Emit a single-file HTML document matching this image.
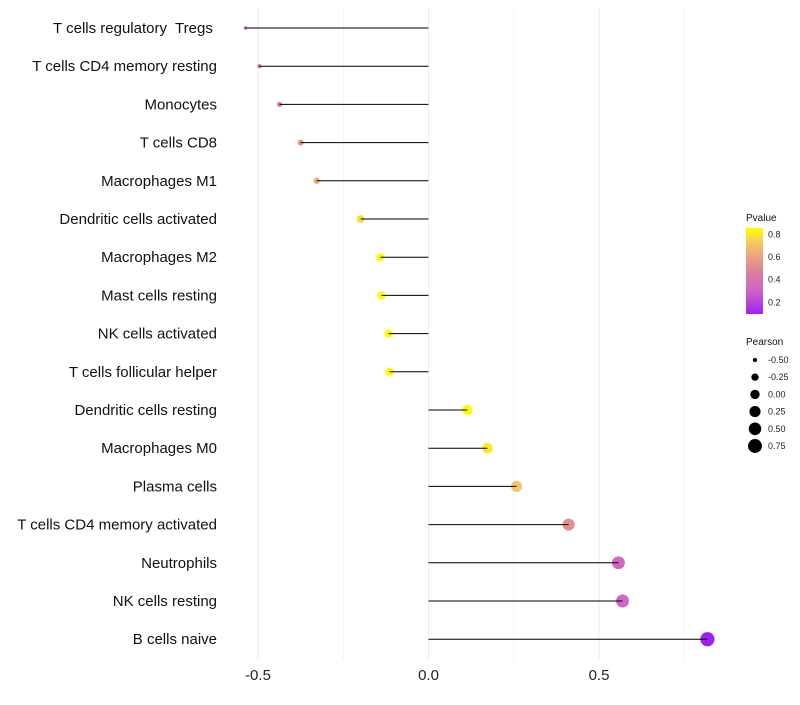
<!DOCTYPE html>
<html><head><meta charset="utf-8"><style>
body{margin:0;background:#fff;font-family:"Liberation Sans",sans-serif}
</style></head><body>
<svg id="chart" width="800" height="700" xmlns="http://www.w3.org/2000/svg" font-family="Liberation Sans, sans-serif"></svg>
<script>
const categories=["T cells regulatory  Tregs ","T cells CD4 memory resting","Monocytes","T cells CD8","Macrophages M1","Dendritic cells activated","Macrophages M2","Mast cells resting","NK cells activated","T cells follicular helper","Dendritic cells resting","Macrophages M0","Plasma cells","T cells CD4 memory activated","Neutrophils","NK cells resting","B cells naive"];
const pearson=[-0.537,-0.496,-0.437,-0.375,-0.328,-0.199,-0.141,-0.138,-0.117,-0.114,0.114,0.173,0.258,0.411,0.557,0.569,0.818];
const pvalue=[0.36,0.40,0.45,0.55,0.65,0.77,0.85,0.85,0.85,0.85,0.85,0.81,0.71,0.53,0.32,0.32,0.10];
const xTicks=[-0.5,0,0.5];
const xTickLabels=["-0.5","0.0","0.5"];
const minorTicks=[-0.25,0.25,0.75];
const pLegend=[0.8,0.6,0.4,0.2];
const sizeLegend=[-0.5,-0.25,0,0.25,0.5,0.75];

const svg=document.getElementById('chart');
const NS="http://www.w3.org/2000/svg";
function mk(tag,attrs,parent){const e=document.createElementNS(NS,tag);for(const k in attrs)e.setAttribute(k,attrs[k]);(parent||svg).appendChild(e);return e;}
const xS=v=>428.5+v*341;
const yS=i=>28+i*38.2;
const rS=v=>Math.sqrt(Math.max(1.5,22+35*v));
const stops=[[0.1,[160,32,240]],[0.3,[205,100,200]],[0.45,[220,125,160]],[0.6,[237,160,130]],[0.72,[245,200,100]],[0.86,[255,255,0]]];
function col(p){if(p<=stops[0][0])return `rgb(${stops[0][1]})`;for(let i=1;i<stops.length;i++){if(p<=stops[i][0]){const t=(p-stops[i-1][0])/(stops[i][0]-stops[i-1][0]);const a=stops[i-1][1],b=stops[i][1];return `rgb(${a.map((c,j)=>Math.round(c+(b[j]-c)*t)).join(',')})`;}}return 'rgb(255,255,0)';}

minorTicks.forEach(t=>{const l=mk('line',{x1:xS(t),x2:xS(t),y1:8,y2:660,stroke:'#f2f2f2','stroke-width':1});});
xTicks.forEach((t,i)=>{const l=mk('line',{x1:xS(t),x2:xS(t),y1:8,y2:660,stroke:'#ebebeb','stroke-width':1});
const tx=mk('text',{x:xS(t),y:680,'text-anchor':'middle','font-size':15,fill:'#222'});tx.textContent=xTickLabels[i];});

categories.forEach((c,i)=>{const y=yS(i);
const lab=mk('text',{x:217,y:y+5,'text-anchor':'end','font-size':15,fill:'#111','xml:space':'preserve',style:'white-space:pre'});lab.textContent=c;
const pt=mk('circle',{cx:xS(pearson[i]),cy:y,r:rS(pearson[i]),fill:col(pvalue[i])});
const ln=mk('line',{x1:xS(0),x2:xS(pearson[i]),y1:y,y2:y,stroke:'#000','stroke-width':1});
});

const lt=mk('text',{x:746,y:221,'font-size':10,fill:'#111'});lt.textContent='Pvalue';
const defs=mk('defs',{});const g=mk('linearGradient',{id:'pg',x1:0,y1:0,x2:0,y2:1},defs);
[0.86,0.72,0.6,0.45,0.3,0.1].forEach(p=>{mk('stop',{offset:Math.max(0,(0.853-p)/(0.853-0.1)),'stop-color':col(p)},g);});
const bar=mk('rect',{x:746,y:228,width:17,height:86,fill:'url(#pg)'});
const pyS=p=>228+(0.853-p)*113;
pLegend.forEach(p=>{const t=mk('text',{x:768,y:pyS(p)+3.5,'font-size':9,fill:'#222'});t.textContent=p.toFixed(1);});
const st=mk('text',{x:746,y:345,'font-size':10,fill:'#111'});st.textContent='Pearson';
sizeLegend.forEach((v,i)=>{const y=360+i*17.2;const c=mk('circle',{cx:755,cy:y,r:rS(v),fill:'#000'});
const t=mk('text',{x:768,y:y+3,'font-size':9,fill:'#222'});t.textContent=v.toFixed(2);});
</script>
</body></html>
